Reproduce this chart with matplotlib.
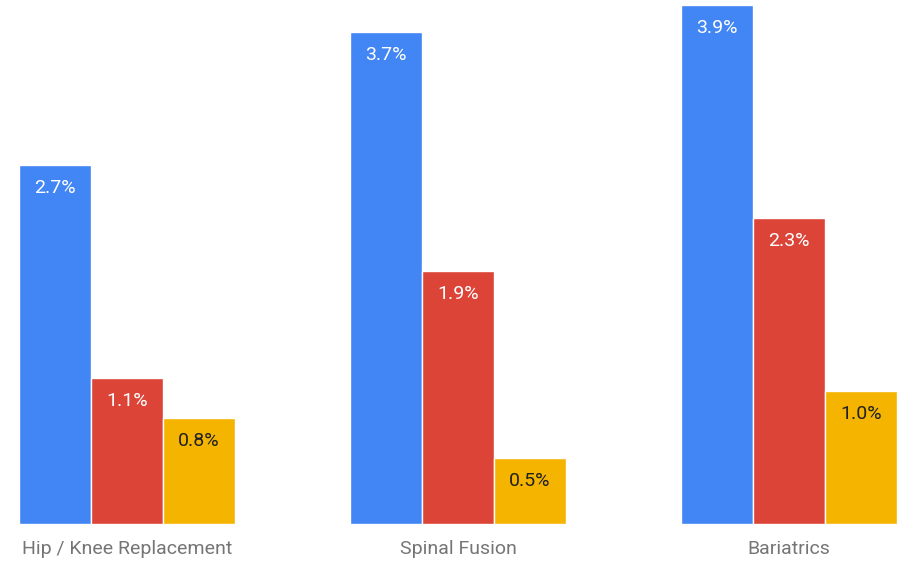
import matplotlib.pyplot as plt
import numpy as np

plt.rcParams['font.family'] = ['Roboto', 'DejaVu Sans']

categories = ["Hip / Knee Replacement", "Spinal Fusion", "Bariatrics"]
series_a = [2.7, 3.7, 3.9]
series_b = [1.1, 1.9, 2.3]
series_c = [0.8, 0.5, 1.0]
colors = ["#4285F4", "#DB4437", "#F4B400"]
text_colors = ["white", "white", "#212121"]

fig = plt.figure(figsize=(9.04, 5.62), dpi=100)
ax = fig.add_axes([0, 38 / 562, 1, 1 - 38 / 562])

x = np.arange(len(categories))
w = 0.217
for i, vals in enumerate([series_a, series_b, series_c]):
    pos = x + (i - 1) * w
    ax.bar(pos, vals, width=w, color=colors[i], edgecolor="white", linewidth=1)
    for px, v in zip(pos, vals):
        ax.annotate(f"{v:.1f}%", (px, v), xytext=(0, -23), textcoords="offset pixels",
                    ha="center", va="center", fontsize=14, color=text_colors[i])

for xi, c in zip(x, categories):
    ax.annotate(c, (xi, 0), xytext=(0, -25), textcoords="offset pixels",
                ha="center", va="center", fontsize=14, color="#757575",
                annotation_clip=False)

ax.set_xlim(-127 / 331, (904 - 127) / 331)
ax.set_ylim(0, 524 / 133)
ax.axis("off")

fig.savefig("out.png", dpi=100)
